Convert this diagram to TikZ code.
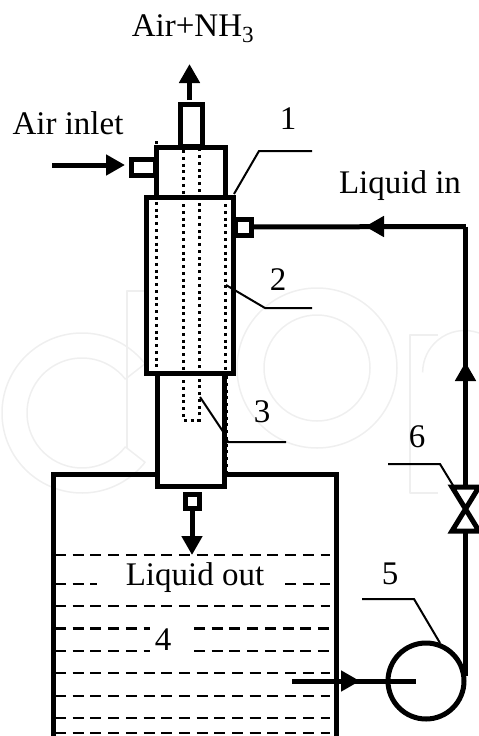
\documentclass[tikz,border=0pt]{standalone}
\usepackage{fontspec}
\setmainfont{Liberation Serif}
\usetikzlibrary{arrows.meta}
\definecolor{mark}{HTML}{EFEFEF}
\tikzset{
  wall/.style={draw=black,line width=5pt,fill=white,inner sep=0pt,outer sep=0pt},
  pipe/.style={draw=black,line width=5pt},
  flow/.style={pipe,-{Triangle[length=19pt,width=20pt]}},
  leader/.style={draw=black,line width=2pt},
  inner dots/.style={draw=black,line width=3pt,dash pattern=on 3pt off 3.77pt},
  liquid/.style={draw=black,line width=2.2pt,dash pattern=on 11pt off 6.7pt},
  ghost/.style={draw=mark,line width=1.5pt,line join=round},
  lbl/.style={font=\fontsize{33}{33}\selectfont,inner sep=0pt,text=black,anchor=base},
}
\begin{document}
\begin{tikzpicture}[x=1pt,y=-1pt]
\useasboundingbox (0,0) rectangle (479,736);
% faint background mark
\draw[ghost] ([shift={(82,413)}]38:80pt) arc[start angle=38,end angle=322,radius=80pt] -- ([shift={(82,413)}]322:55pt) arc[start angle=322,end angle=38,radius=55pt,] -- cycle;
\draw[ghost] (127,448) -- (127,291) -- (155,291);
\draw[ghost] (317,368) circle[radius=80pt];
\draw[ghost] (317,368) circle[radius=53pt];
\draw[ghost] (438,493) -- (410,493) -- (410,335) -- (438,335);
\draw[ghost] (479,333) arc[start angle=70,end angle=180,radius=42pt];
% liquid levels
\foreach \yy in {555,606,673,696,718,733} \draw[liquid] (55,\yy) -- (330,\yy);
\foreach \yy in {584} {\draw[liquid] (55,\yy) -- (97,\yy); \draw[liquid] (285,\yy) -- (330,\yy);}
\foreach \yy in {628.5,651} {\draw[liquid] (55,\yy) -- (150,\yy); \draw[liquid] (194,\yy) -- (330,\yy);}
% tank
\coordinate (tankBL) at (53,740);
\coordinate (tankTL) at (53,474);
\coordinate (tankTR) at (336.5,474);
\coordinate (tankBR) at (336.5,740);
\draw[pipe,miter limit=10] (tankBL) -- (tankTL) -- (tankTR) -- (tankBR);
% column parts
\node[wall,minimum width=67pt,minimum height=114pt] (lower) at (190.5,429) {};
\node[wall,minimum width=22pt,minimum height=42pt] (top) at (191,125) {};
\node[wall,minimum width=69pt,minimum height=50pt] (head) at (190.5,172) {};
\node[wall,minimum width=87pt,minimum height=176pt] (shell) at (190,285) {};
% ports
\node[wall,minimum width=24pt,minimum height=16pt] (airport) at (143,167) {};
\node[wall,minimum width=16pt,minimum height=16pt] (liqport) at (243,227) {};
\node[wall,minimum width=14pt,minimum height=14pt] (outport) at (192,501) {};
% dotted tubes
\draw[inner dots] (156,141) -- (156,376);
\draw[inner dots] (225,150) -- (225,372);
\draw[inner dots] (226,376) -- (226,472);
\draw[inner dots] (183,150) -- (183,420) -- (199.5,420) -- (199.5,150);
% pipes
\coordinate (airOutA) at (189.5,100);
\coordinate (airOutB) at (189.5,64);
\draw[flow] (airOutA) -- (airOutB);
\coordinate (airIn) at (52,165);
\coordinate (airInTip) at (125,165);
\draw[flow] (airIn) -- (airInTip);
\coordinate (corner) at (465.5,226.5);
\coordinate (arrowLeft) at (365,226.5);
\coordinate (arrowUp) at (465.5,362);
\node[draw=black,line width=5pt,circle,minimum size=76pt,inner sep=0pt,outer sep=0pt] (pump) at (426,681) {};
\coordinate (pumpExit) at (465.5,676);
\coordinate (valveTop) at (465.5,487);
\coordinate (valveBot) at (465.5,531);
\draw[pipe,line cap=square] (corner) -- (liqport.east);
\draw[flow] (corner) -- (arrowLeft);
\draw[pipe] (corner) -- (valveTop);
\draw[flow] (valveTop) -- (arrowUp);
\draw[pipe] (valveBot) -- (pumpExit);
\draw[pipe,miter limit=10] (452,487) -- (479,487) -- (452,531) -- (479,531) -- cycle;
\draw[flow] (outport.south) -- (192,555);
\coordinate (suck) at (292,681);
\coordinate (suckTip) at (360,681);
\coordinate (pumpIn) at (416,681);
\draw[pipe] (suck) -- (pumpIn);
\draw[flow] (suck) -- (suckTip);
% leaders
\draw[leader] (234,194) -- (259,151) -- (312,151);
\draw[leader] (226,285) -- (265,308) -- (312,308);
\draw[leader] (200,397) -- (224,433) -- (228,442) -- (286,442);
\draw[leader] (440,643) -- (414,599) -- (362,599);
\draw[leader] (454,487) -- (440,464) -- (388,464);
% labels
\node[lbl] (t1) at (193,36) {Air+NH\textsubscript{3}};
\node[lbl] (t2) at (68,134) {Air inlet};
\node[lbl] (t3) at (288,129) {1};
\node[lbl] (t4) at (400,193) {Liquid in};
\node[lbl] (t5) at (278,290) {2};
\node[lbl] (t6) at (262,422) {3};
\node[lbl] (t7) at (417,447) {6};
\node[lbl] (t8) at (390,584) {5};
\node[lbl] (t9) at (195,585) {Liquid out};
\node[lbl] (t10) at (163,650) {4};
\end{tikzpicture}
\end{document}
